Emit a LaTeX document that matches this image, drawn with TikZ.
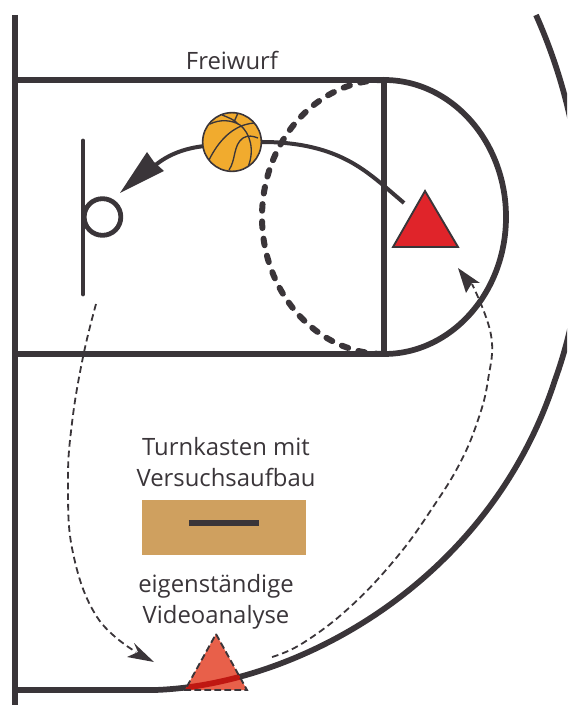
\documentclass[tikz,border=0pt]{standalone}
\usepackage{fontspec}
\setmainfont{Open Sans}
\definecolor{ink}{HTML}{3A3539}
\definecolor{ballc}{HTML}{F1AB2E}
\definecolor{boxc}{HTML}{CFA05F}
\definecolor{redt}{HTML}{E0242A}
\definecolor{oranget}{HTML}{E8604A}
\newcommand{\outerarc}{(536,15) .. controls (585,125) and (600,255) .. (555,380) .. controls (490,580) and (300,685) .. (155,690)}
\tikzset{
  x=0.75pt,y=-0.75pt,
  court/.style={draw=ink,line width=4.3pt},
  flow/.style={draw=ink,line width=1.35pt,dash pattern=on 5pt off 3pt},
  tip/.style={fill=ink,draw=none},
  label/.style={font=\fontsize{17.9pt}{23.5pt}\selectfont,text=ink,align=center,inner sep=0pt},
  ballline/.style={draw=ink,line width=1pt},
}
\begin{document}
\begin{tikzpicture}
\useasboundingbox (0,0) rectangle (567,705);
\clip (0,0) rectangle (567,705);
\coordinate (TL) at (15,80);
\coordinate (TR) at (384,80);
\coordinate (BL) at (15,354);
\coordinate (BR) at (384,354);
% court
\draw[court,line width=4.6pt] (15,15) -- (15,705);
\draw[court] (TL) -- (TR);
\draw[court] (BL) -- (BR);
\draw[court] (TR) -- (BR);
\draw[court] (TR) .. controls (451,80) and (506,141) .. (506,217) .. controls (506,293) and (451,354) .. (BR);
\draw[court,line width=4.5pt,line cap=round,dash pattern=on 5pt off 8pt] (TR) .. controls (317,80) and (262,141) .. (262,217) .. controls (262,293) and (317,354) .. (BR);
\draw[court] \outerarc -- (15,690);
% hoop
\draw[court,line width=3.7pt,line cap=round] (83,141) -- (83,294);
\node[circle,draw=ink,line width=3.6pt,minimum size=27.5pt,inner sep=0pt] (hoop) at (102.5,217) {};
% shot
\coordinate (shotstart) at (404,203);
\coordinate (shotend) at (150,170);
\draw[ink,line width=3pt] (shotstart) -- (383,185) .. controls (360,166) and (330,142) .. (262,142) -- (205,146) .. controls (185,148) and (165,155) .. (shotend);
\fill[tip] (120,193) -- (147,152) -- (154,162) -- (164,171) -- cycle;
% ball
\node[circle,fill=ballc,draw=ink,line width=1.2pt,minimum size=44pt,inner sep=0pt] (ball) at (232,142) {};
\begin{scope}
\clip (232,142) circle (29);
\draw[ballline] (210,124) .. controls (220,119) and (232,120) .. (240,125) .. controls (250,133) and (255,150) .. (248,167);
\draw[ballline] (222,115) .. controls (230,118) and (236,121) .. (238,124) (238,113) -- (234,122);
\draw[ballline] (209,160) .. controls (218,142) and (232,125) .. (254,123);
\draw[ballline] (229,170) .. controls (236,160) and (233,145) .. (243,138) .. controls (248,135) and (253,136) .. (258,138);
\end{scope}
% red player
\fill[redt,draw=ink,line width=1.4pt] (425,191) -- (458,247) -- (393,247) -- cycle;
% video triangle
\fill[oranget] (216,634) -- (247,690) -- (185,690) -- cycle;
\begin{scope}
\clip (216,634) -- (247,690) -- (185,690) -- cycle;
\draw[draw=red!70!black,line width=4.3pt,opacity=.75] \outerarc;
\end{scope}
\draw[ink,line width=1.4pt,dash pattern=on 5pt off 2.5pt] (216,634) -- (247,690) -- (185,690) -- cycle;
% flows
\coordinate (f1) at (96,304);
\coordinate (f2) at (136,652);
\draw[flow] plot[smooth,tension=0.7] coordinates {(f1) (83,357) (72,423) (68,483) (73,553) (97,617) (f2)};
\fill[tip] (154,662) -- (127,657) -- (138,652) -- (134,643) -- cycle;
\coordinate (f3) at (272,657);
\coordinate (f4) at (472,284);
\draw[flow] plot[smooth,tension=0.7] coordinates {(f3) (303,643) (350,607) (397,557) (433,507) (460,463) (478,420) (488,380) (491,335) (f4)};
\fill[tip] (458,268) -- (480,283) -- (472,283) -- (466,293) -- cycle;
% box
\fill[boxc] (142,500) rectangle (306,555);
\node[fill=ink,minimum width=53pt,minimum height=5.2pt,inner sep=0pt] (bar) at (224,523) {};
% labels
\node[label] (freiwurf) at (232,60) {Freiwurf};
\node[label] (turn) at (226,462) {Turnkasten mit\\Versuchsaufbau};
\node[label] (video) at (216,602) {eigenständige\\Videoanalyse};
\end{tikzpicture}
\end{document}
